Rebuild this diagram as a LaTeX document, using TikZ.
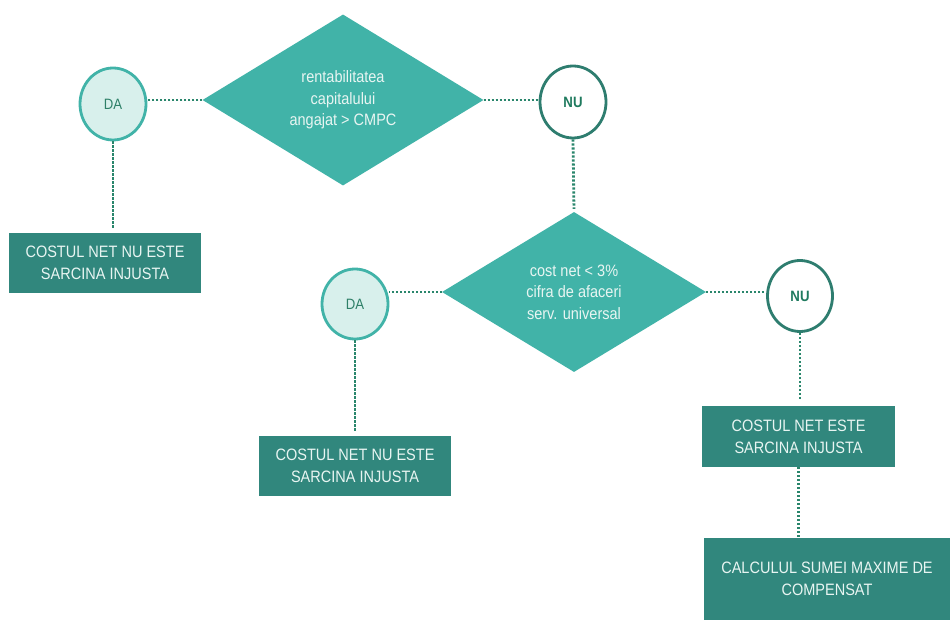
\documentclass[tikz,border=0pt]{standalone}
\usepackage{fontspec}
\setmainfont{Liberation Sans}[FakeStretch=0.88]
\usetikzlibrary{shapes.geometric}
\definecolor{diafill}{RGB}{65,179,168}
\definecolor{boxfill}{RGB}{49,135,125}
\definecolor{dafill}{RGB}{216,240,236}
\definecolor{daline}{RGB}{65,179,168}
\definecolor{nuline}{RGB}{46,125,111}
\definecolor{datext}{RGB}{46,128,104}
\definecolor{nutext}{RGB}{31,122,94}
\definecolor{lighttext}{RGB}{232,245,242}
\definecolor{dotcol}{RGB}{42,134,108}
\tikzset{
  decision/.style={diamond, fill=diafill, inner sep=0pt, text=lighttext,
    align=center, font=\fontsize{16.5}{21.5}\selectfont},
  yesnode/.style={ellipse, draw=daline, line width=2.8pt, fill=dafill, inner sep=0pt,
    minimum width=66pt, minimum height=72pt, text=datext, font=\fontsize{15}{17}\selectfont},
  nonode/.style={ellipse, draw=nuline, line width=2.8pt, fill=white, inner sep=0pt,
    minimum width=66pt, minimum height=72pt, text=nutext, font=\bfseries\fontsize{15}{17}\selectfont},
  resbox/.style={rectangle, fill=boxfill, inner sep=0pt, text=lighttext,
    align=center, font=\fontsize{16.5}{22}\selectfont},
  link/.style={draw=dotcol, line width=2.8pt, dash pattern=on 2.2pt off 1.8pt}
}
\begin{document}
\begin{tikzpicture}[x=1pt,y=-1pt]
\useasboundingbox[fill=white] (0,0) rectangle (950,620);
% decisions
\node[decision, minimum width=281pt, minimum height=171pt] (d1) at (343,100)
  {rentabilitatea\\capitalului\\angajat > CMPC};
\node[decision, minimum width=264pt, minimum height=160pt] (d2) at (574,292)
  {cost net < 3\%\\cifra de afaceri\\serv. universal};
% yes / no
\node[yesnode] (da1) at (113,104) {DA};
\node[nonode] (nu1) at (573,102) {NU};
\node[yesnode, minimum height=70pt] (da2) at (355,304) {DA};
\node[nonode, minimum width=65pt, minimum height=71pt] (nu2) at (800,296) {NU};
% result boxes
\node[resbox, minimum width=192pt, minimum height=60pt] (b1) at (105,263)
  {COSTUL NET NU ESTE\\SARCINA INJUSTA};
\node[resbox, minimum width=192pt, minimum height=60pt] (b2) at (355,466)
  {COSTUL NET NU ESTE\\SARCINA INJUSTA};
\node[resbox, minimum width=193pt, minimum height=61pt] (b3) at (798.5,436.5)
  {COSTUL NET ESTE\\SARCINA INJUSTA};
\node[resbox, minimum width=246pt, minimum height=82pt] (b4) at (827,579)
  {CALCULUL SUMEI MAXIME DE\\COMPENSAT};
% connectors
\draw[link] (d1.west) -- (d1.west -| da1.east);
\draw[link] (d1.east) -- (d1.east -| nu1.west);
\draw[link, shorten >=4pt] (da1.south) -- (da1.south |- b1.north);
\draw[link, shorten >=3pt] (nu1.south) -- (d2.north);
\draw[link] (d2.west) -- (d2.west -| da2.east);
\draw[link, shorten >=5pt] (da2.south) -- (da2.south |- b2.north);
\draw[link] (d2.east) -- (d2.east -| nu2.west);
\draw[link, shorten >=5pt] (nu2.south) -- (nu2.south |- b3.north);
\draw[link, shorten >=1pt] (b3.south) -- (b3.south |- b4.north);
\end{tikzpicture}
\end{document}
